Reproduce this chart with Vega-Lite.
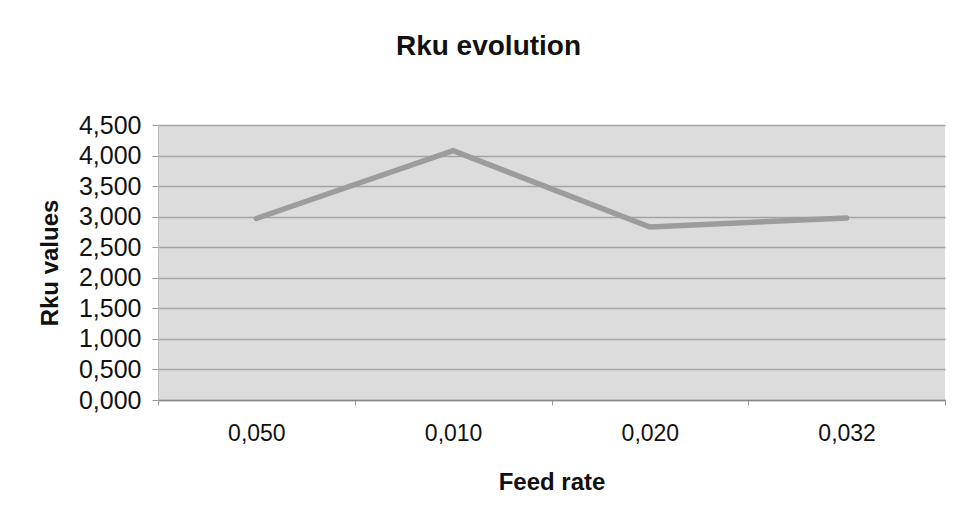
{
  "$schema": "https://vega.github.io/schema/vega-lite/v6.json",
  "width": 787,
  "height": 275,
  "autosize": "none",
  "padding": {"left": 158, "top": 125, "right": 9, "bottom": 115},
  "background": "white",
  "config": {
    "font": "Liberation Sans",
    "locale": {"number": {"decimal": ",", "thousands": ".", "grouping": [3], "currency": ["", ""]}},
    "view": {"fill": "#dcdcdc", "stroke": null}
  },
  "title": {
    "text": "Rku evolution",
    "fontSize": 28,
    "fontWeight": "bold",
    "color": "#111111",
    "anchor": "middle",
    "dx": -63,
    "offset": 52
  },
  "data": {
    "values": [
      {"feed": "0,050", "rku": 2.97},
      {"feed": "0,010", "rku": 4.08},
      {"feed": "0,020", "rku": 2.83},
      {"feed": "0,032", "rku": 2.98}
    ]
  },
  "mark": {"type": "line", "color": "#9c9c9c", "strokeWidth": 5.5, "strokeCap": "round"},
  "encoding": {
    "x": {
      "field": "feed",
      "type": "nominal",
      "sort": null,
      "bandPosition": 0.5,
      "scale": {"type": "band", "paddingInner": 0, "paddingOuter": 0},
      "axis": {
        "title": "Feed rate",
        "titleFontSize": 24,
        "titleFontWeight": "bold",
        "titleColor": "#111111",
        "titlePadding": 25,
        "labelFontSize": 23,
        "labelColor": "#111111",
        "labelAngle": 0,
        "labelPadding": 17,
        "tickBand": "extent",
        "ticks": true,
        "tickSize": 5,
        "tickColor": "#9a9a9a",
        "domainColor": "#8a8a8a",
        "domainWidth": 1.5,
        "grid": false
      }
    },
    "y": {
      "field": "rku",
      "type": "quantitative",
      "scale": {"domain": [0, 4.5], "nice": false, "zero": true},
      "axis": {
        "title": "Rku values",
        "titleFontSize": 24,
        "titleFontWeight": "bold",
        "titleColor": "#111111",
        "titlePadding": 16,
        "values": [0, 0.5, 1, 1.5, 2, 2.5, 3, 3.5, 4, 4.5],
        "format": ".3f",
        "labelFontSize": 25,
        "labelColor": "#111111",
        "labelPadding": 11,
        "ticks": true,
        "tickSize": 6,
        "tickColor": "#9a9a9a",
        "domain": true,
        "domainColor": "#bdbdbd",
        "grid": true,
        "gridColor": "#a4a4a4",
        "gridWidth": 1.5
      }
    }
  }
}
